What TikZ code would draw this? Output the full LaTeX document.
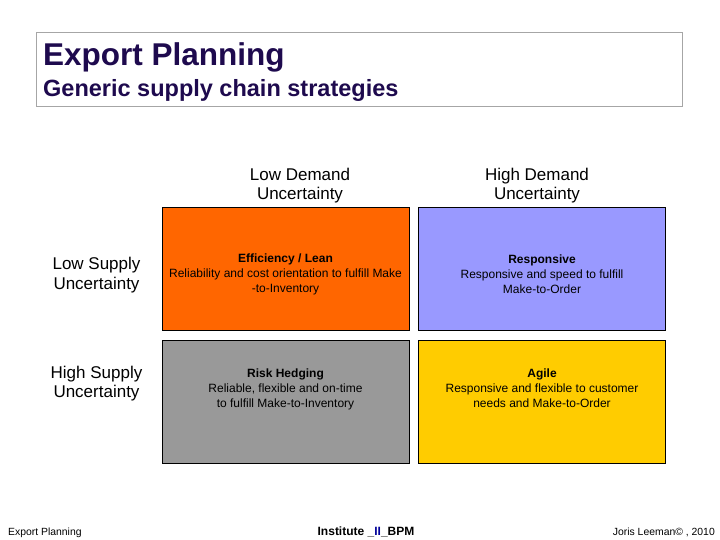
\documentclass[tikz,border=0pt]{standalone}
\usepackage{fontspec}
\setmainfont{Liberation Sans}
\usepackage{xcolor}
\definecolor{titleink}{HTML}{1E0A4E}
\definecolor{leanorange}{HTML}{FF6600}
\definecolor{respblue}{HTML}{9999FF}
\definecolor{hedgegray}{HTML}{999999}
\definecolor{agileyellow}{HTML}{FFCC00}
\definecolor{framegray}{HTML}{A6A6A6}
\definecolor{bpmblue}{HTML}{000099}
\newcommand{\quadrant}[8] {
    \node[cell,fill={#4}] (#1) at ({#2}, {#3}) {};
    \node[celltext] (#1-text) at ([yshift={#5}]#1.center) {\textbf{#6}\\{#7}\\{#8}};
}
\tikzset{
    cell/.style={
        rectangle,
        draw=black,
        line width=0.7pt,
        minimum width=247pt,
        minimum height=123pt,
        inner sep=0mm,
        outer sep=0mm
    },
    celltext/.style={
        align=center,
        inner sep=0mm,
        font=\fontsize{12}{15}\selectfont
    },
    axislabel/.style={
        align=center,
        inner sep=0mm,
        font=\fontsize{17}{19.5}\selectfont
    },
    footer/.style={
        inner sep=0mm,
        font=\fontsize{10.4}{12}\selectfont
    }
}

\begin{document}
\begin{tikzpicture}[x=1pt,y=-1pt]
        \useasboundingbox[fill=white] (0,0) rectangle (720,540);
        % heading
        \node[draw=framegray,line width=0.8pt,minimum width=646pt,minimum height=74pt,inner sep=0mm] (frame) at (359,69) {};
        \node[anchor=base west,inner sep=0mm,text=titleink,font=\fontsize{31.5}{34}\selectfont\bfseries] (title) at (43,66) {Export Planning};
        \node[anchor=base west,inner sep=0mm,text=titleink,font=\fontsize{23.5}{26}\selectfont\bfseries] (subtitle) at (43,97) {Generic supply chain strategies};
        % columns
        \node[axislabel] (lowdemand) at (300,185.5) {Low Demand\\Uncertainty};
        \node[axislabel] (highdemand) at (537,185.5) {High Demand\\Uncertainty};
        % rows
        \node[axislabel] (lowsupply) at (96.5,275) {Low Supply\\Uncertainty};
        \node[axislabel] (highsupply) at (96.5,383.5) {High Supply\\Uncertainty};
        % strategies
        \quadrant{lean}{285.5}{268.5}{leanorange}{-5.5pt}{Efficiency / Lean}{Reliability and cost orientation to fulfill Make}{-to-Inventory}
        \quadrant{responsive}{542}{268.5}{respblue}{-5.5pt}{Responsive}{Responsive and speed to fulfill}{Make-to-Order}
        \quadrant{hedging}{285.5}{402}{hedgegray}{13pt}{Risk Hedging}{Reliable, flexible and on-time}{to fulfill Make-to-Inventory}
        \quadrant{agile}{542}{401.5}{agileyellow}{13pt}{Agile}{Responsive and flexible to customer}{needs and Make-to-Order}
        % footer
        \node[footer,anchor=base west] (footleft) at (8,535) {Export Planning};
        \node[footer,anchor=base,font=\fontsize{12}{14}\selectfont\bfseries] (footmid) at (366,535) {Institute \_\textcolor{bpmblue}{II}\_BPM};
        \node[footer,anchor=base east] (footright) at (715,535) {Joris Leeman\textcopyright\ , 2010};
    \end{tikzpicture}
\end{document}
